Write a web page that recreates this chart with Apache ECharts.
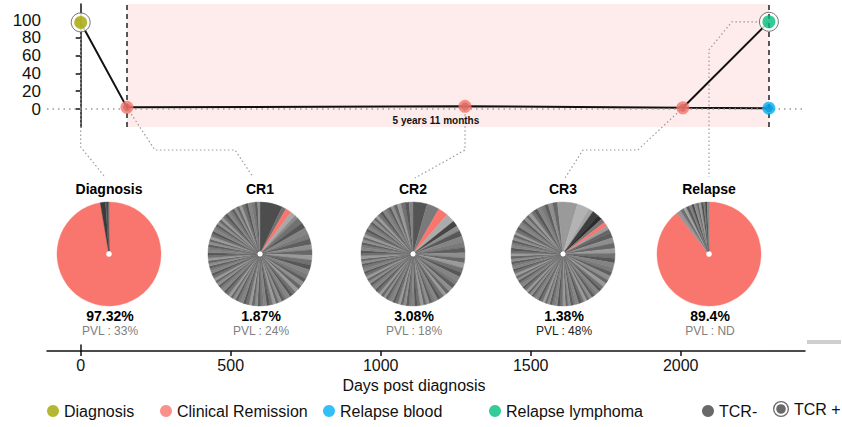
<!DOCTYPE html>
<html><head><meta charset="utf-8">
<script src="https://cdn.jsdelivr.net/npm/echarts@6/dist/echarts.min.js"></script>
<style>html,body{margin:0;padding:0;background:#fff}#c{width:842px;height:427px}</style>
</head><body><div id="c"></div>
<script>
// ---------------- data ----------------
const eventNames = ['Diagnosis', 'CR1', 'CR2', 'CR3', 'Relapse blood', 'Relapse lymphoma'];
const eventDays = [0, 154, 1281, 2007, 2294, 2294];
const eventTumorPct = [97.32, 1.87, 3.08, 1.38, 0.9, 98];
const remissionStartDay = 154;
const relapseDay = 2294;
const remissionLabel = '5 years 11 months';
const xTickValues = [0, 500, 1000, 1500, 2000];
const yTickValues = [0, 20, 40, 60, 80, 100];

const pieTitles = ['Diagnosis', 'CR1', 'CR2', 'CR3', 'Relapse'];
const pieMalignantPct = ['97.32%', '1.87%', '3.08%', '1.38%', '89.4%'];
const piePVL = ['PVL : 33%', 'PVL : 24%', 'PVL : 18%', 'PVL : 48%', 'PVL : ND'];

const diagnosisClones = [97.32, 1.6, 0.5, 0.3, 0.28];
const cr1Clones = [7.0, 1.3, 1.87, 1.6, 1.1,
  2.0, 1.8, 1.9, 1.7, 1.8, 1.6, 1.7, 1.5, 1.6, 1.5, 1.4, 1.5, 1.3, 1.4, 1.3, 1.2,
  1.1, 1.0, 1.1, 0.9, 1.0, 1.0, 0.9, 1.0, 0.9, 1.0, 0.9, 0.9, 1.0, 0.9,
  0.9, 0.9, 1.0, 0.8, 0.9, 0.9, 0.8, 0.9, 0.8, 0.9, 0.9, 0.8, 0.9, 0.8,
  0.8, 0.9, 0.8, 0.8, 0.9, 0.8, 0.8, 0.8, 0.8, 0.9, 0.8, 0.8, 0.8, 0.9,
  0.8, 0.9, 0.8, 0.9, 0.8, 0.9, 0.8, 0.9, 0.8, 0.9, 0.8, 0.9, 0.9, 0.8,
  0.9, 0.9, 0.8, 0.9, 0.9, 0.8, 0.9, 0.9, 1.0, 0.9, 1.1, 1.0, 0.9, 0.73];
const cr2Clones = [4.4, 3.9, 3.08, 2.8, 1.8, 1.6,
  1.9, 1.7, 1.8, 1.6, 1.7, 1.5, 1.6, 1.5, 1.4, 1.5, 1.3, 1.4, 1.3, 1.2,
  1.0, 1.1, 1.0, 0.9, 1.0, 0.9, 1.0, 0.9, 1.0, 0.9, 0.9, 0.8, 0.9, 0.9,
  0.8, 0.9, 0.8, 0.9, 0.8, 0.8, 0.9, 0.8, 0.8, 0.9, 0.8, 0.8, 0.8, 0.8,
  0.8, 0.8, 0.8, 0.9, 0.8, 0.8, 0.8, 0.8, 0.9, 0.8, 0.8, 0.8, 0.9, 0.8,
  0.9, 0.8, 0.9, 0.8, 0.9, 0.8, 0.9, 0.9, 0.9, 0.8, 0.9, 0.9, 0.9, 0.8,
  0.9, 1.0, 0.9, 0.9, 1.0, 0.9, 1.0, 1.1, 1.2, 1.3, 1.2, 1.22];
const cr3Clones = [4.5, 3.8, 1.5, 2.0, 1.5, 1.3, 1.38, 1.2, 1.0,
  1.8, 1.6, 1.7, 1.5, 1.6, 1.4, 1.5, 1.4, 1.3, 1.4, 1.2, 1.3,
  1.0, 0.9, 1.0, 0.9, 1.0, 0.9, 0.9, 0.9, 0.8, 0.9, 0.9, 0.8, 0.9, 0.8,
  0.8, 0.8, 0.9, 0.8, 0.8, 0.8, 0.8, 0.8, 0.7, 0.8, 0.8, 0.7, 0.8, 0.8,
  0.7, 0.8, 0.8, 0.7, 0.8, 0.7, 0.8, 0.8, 0.8, 0.7, 0.8, 0.8, 0.8, 0.7,
  0.8, 0.8, 0.8, 0.8, 0.9, 0.8, 0.8, 0.9, 0.8, 0.9, 0.8, 0.9, 0.9, 0.8,
  0.9, 0.9, 1.0, 0.9, 0.9, 1.0, 0.9, 1.1, 1.0, 1.2, 1.1, 1.3, 1.2, 1.4, 1.5, 1.72];
const relapseClones = [89.4, 1.4, 1.1, 0.9, 1.0, 0.8, 0.7, 0.9, 0.6, 0.8, 0.7, 0.6, 0.5, 0.6];
const malignantCloneIndex = [0, 2, 2, 6, 0];

// ---------------- styling ----------------
const FONT = 'Liberation Sans, Arial, sans-serif';
const C_DIAG = '#A3A500', C_CR = '#F8766D', C_BLOOD = '#00B0F6', C_LYMPH = '#00BF7D';
const headColors = [
  ['#F8766D', '#3b3b3b', '#5a5a5a', '#2f2f2f', '#6b6b6b'],
  ['#4d4d4d', '#707070', '#F8766D', '#a8a8a8', '#8a8a8a'],
  ['#555555', '#7a7a7a', '#F8766D', '#ababab', '#454545', '#8c8c8c'],
  ['#9a9a9a', '#b3b3b3', '#a3a3a3', '#3e3e3e', '#2c2c2c', '#777777', '#F8766D', '#9c9c9c', '#656565'],
  ['#F8766D', '#959595', '#6e6e6e', '#a3a3a3', '#5b5b5b', '#7f7f7f', '#4a4a4a', '#8d8d8d', '#646464', '#9a9a9a', '#525252', '#767676', '#3f3f3f', '#888888']
];
const tailColors = ['#7a7a7a', '#5e5e5e', '#8e8e8e', '#676767', '#9a9a9a', '#717171', '#575757', '#848484'];
const pieCentersX = [109, 260, 413, 563, 709];
const pieCenterY = 254, pieR = 52;

const X_MIN = -112.3, X_MAX = 2414.3;
const Y_MIN = -20.2, Y_MAX = 118;

const allClones = [diagnosisClones, cr1Clones, cr2Clones, cr3Clones, relapseClones];

const sliceColor = (p, i) => i === malignantCloneIndex[p] ? C_CR
  : (i < headColors[p].length ? headColors[p][i] : tailColors[i % tailColors.length]);

const pieSeries = allClones.map((vals, p) => ({
  type: 'pie', name: pieTitles[p], silent: true, animation: false,
  center: [pieCentersX[p], pieCenterY], radius: [3, pieR],
  startAngle: 90, clockwise: true, avoidLabelOverlap: false,
  label: {show: false}, labelLine: {show: false}, emphasis: {disabled: true},
  data: vals.map((v, i) => ({
    value: v,
    itemStyle: {color: sliceColor(p, i), borderColor: sliceColor(p, i), borderWidth: 0.4}
  }))
}));

const pt = i => [eventDays[i], eventTumorPct[i]];
const ringPath = 'path://M0,50 A50,50 0 1,1 100,50 A50,50 0 1,1 0,50 Z M8,50 A42,42 0 1,0 92,50 A42,42 0 1,0 8,50 Z M20,50 A30,30 0 1,1 80,50 A30,30 0 1,1 20,50 Z';

function legendAt(name, left, extra) {
  return Object.assign({
    data: [name], left: left, top: 403, orient: 'horizontal',
    itemWidth: 12, itemHeight: 12, itemGap: 0, icon: 'circle',
    selectedMode: false, padding: 0,
    textStyle: {fontSize: 16, fontFamily: FONT, color: '#111'}
  }, extra || {});
}

const option = {
  animation: false,
  backgroundColor: '#fff',
  grid: [
    {left: 47, right: 37, top: 4, height: 123},
    {left: 47, right: 37, top: 345, height: 6}
  ],
  xAxis: [
    {gridIndex: 0, type: 'value', min: X_MIN, max: X_MAX, show: false, splitLine: {show: false}},
    {gridIndex: 1, type: 'value', min: X_MIN, max: X_MAX, position: 'bottom',
      axisLine: {show: true, lineStyle: {color: '#111', width: 1.5}},
      axisTick: {show: true, length: 5, customValues: xTickValues, lineStyle: {color: '#111', width: 1.5}},
      axisLabel: {customValues: xTickValues, fontSize: 16, fontFamily: FONT, color: '#111', margin: 6,
        formatter: v => String(v)},
      splitLine: {show: false},
      name: 'Days post diagnosis', nameLocation: 'middle', nameGap: 26,
      nameTextStyle: {fontSize: 16, fontFamily: FONT, color: '#111', padding: [0, 24, 0, 0]}
    }
  ],
  yAxis: [
    {gridIndex: 0, type: 'value', min: Y_MIN, max: Y_MAX,
      axisLine: {show: true, lineStyle: {color: '#111', width: 1.5}},
      axisTick: {show: true, length: 5, customValues: yTickValues, lineStyle: {color: '#111', width: 1.5}},
      axisLabel: {customValues: yTickValues, fontSize: 17, fontFamily: FONT, color: '#111', margin: 6,
        formatter: v => String(v)},
      splitLine: {show: false}
    },
    {gridIndex: 1, type: 'value', min: 0, max: 1,
      axisLine: {show: true, lineStyle: {color: '#111', width: 1.5}},
      axisTick: {show: false}, axisLabel: {show: false}, splitLine: {show: false}
    }
  ],
  legend: [
    legendAt('Diagnosis', 47),
    legendAt('Clinical Remission', 160),
    legendAt('Relapse blood', 323),
    legendAt('Relapse lymphoma', 489),
    legendAt('TCR-', 702),
    legendAt('TCR +', 773, {itemWidth: 16, itemHeight: 16, top: 401,
      data: [{name: 'TCR +', icon: ringPath, itemStyle: {color: '#444', borderWidth: 0}}]})
  ],
  series: [
    {
      type: 'line', name: 'trajectory', xAxisIndex: 0, yAxisIndex: 0, z: 3,
      data: [pt(0), pt(1), pt(2), pt(3), pt(4)],
      symbol: 'none', silent: true,
      lineStyle: {color: '#111', width: 2},
      markArea: {
        silent: true,
        itemStyle: {color: '#fdeceb'},
        label: {show: true, position: 'insideBottom', distance: 2, offset: [-12, 0],
          color: '#111', fontWeight: 'bold', fontSize: 10, fontFamily: FONT, formatter: remissionLabel},
        data: [[{xAxis: remissionStartDay}, {xAxis: relapseDay}]]
      },
      markLine: {
        silent: true, symbol: ['none', 'none'], label: {show: false},
        data: [
          {yAxis: 0, lineStyle: {color: '#9a9a9a', width: 1.5, type: [1.5, 4]}},
          {xAxis: remissionStartDay, lineStyle: {color: '#222', width: 1.5, type: [5, 4]}},
          {xAxis: relapseDay, lineStyle: {color: '#222', width: 1.5, type: [5, 4]}}
        ]
      }
    },
    {
      type: 'line', name: 'lymphoma branch', xAxisIndex: 0, yAxisIndex: 0, z: 3,
      data: [pt(3), pt(5)], symbol: 'none', silent: true,
      lineStyle: {color: '#111', width: 2}
    },
    {
      type: 'scatter', name: 'TCR +', xAxisIndex: 0, yAxisIndex: 0, z: 4,
      data: [pt(0), pt(5)], symbol: 'circle', symbolSize: 19, silent: true,
      itemStyle: {color: '#fff', borderColor: '#555', borderWidth: 1}
    },
    {
      type: 'scatter', name: 'TCR-', xAxisIndex: 0, yAxisIndex: 0, z: 4,
      data: [pt(1), pt(2), pt(3), pt(4)], symbol: 'circle', symbolSize: 8, silent: true,
      itemStyle: {color: '#444'}
    },
    {type: 'scatter', name: 'Diagnosis', xAxisIndex: 0, yAxisIndex: 0, z: 5, data: [pt(0)],
      symbol: 'circle', symbolSize: 13, silent: true, itemStyle: {color: C_DIAG}},
    {type: 'scatter', name: 'Clinical Remission', xAxisIndex: 0, yAxisIndex: 0, z: 5, data: [pt(1), pt(2), pt(3)],
      symbol: 'circle', symbolSize: 13, silent: true, itemStyle: {color: C_CR}},
    {type: 'scatter', name: 'Relapse blood', xAxisIndex: 0, yAxisIndex: 0, z: 5, data: [pt(4)],
      symbol: 'circle', symbolSize: 13, silent: true, itemStyle: {color: C_BLOOD}},
    {type: 'scatter', name: 'Relapse lymphoma', xAxisIndex: 0, yAxisIndex: 0, z: 5, data: [pt(5)],
      symbol: 'circle', symbolSize: 13, silent: true, itemStyle: {color: C_LYMPH}}
  ].concat(pieSeries)
};

const chart = echarts.init(document.getElementById('c'), null, {renderer: 'svg'});
chart.setOption(option);

// ---------- annotations (connectors and pie captions) ----------
const px = i => chart.convertToPixel({gridIndex: 0}, pt(i));
const P = [px(0), px(1), px(2), px(3), px(4), px(5)];
const dotted = {stroke: '#9a9a9a', lineWidth: 1.2, lineDash: [1.5, 2.5], fill: null};
const titleTop = 177, elbowY = 150;
const connectors = [
  [P[0], [P[0][0], 147], [pieCentersX[0] - 4, titleTop]],
  [P[1], [P[1][0] + 28, elbowY], [pieCentersX[1] - 25, elbowY], [pieCentersX[1] - 7, titleTop]],
  [P[2], [P[2][0], elbowY], [pieCentersX[2] + 2, titleTop + 1]],
  [P[3], [P[3][0] - 45, elbowY], [pieCentersX[3] + 20, elbowY], [pieCentersX[3] + 2, titleTop + 1]],
  [P[5], [P[5][0] - 37, P[5][1]], [pieCentersX[4], P[5][1] + 28], [pieCentersX[4], titleTop]]
];
const graphics = [];
connectors.forEach((pts, k) => graphics.push({
  type: 'polyline', id: 'conn' + k, z: 1, silent: true,
  shape: {points: pts}, style: dotted
}));
pieTitles.forEach((t, k) => {
  graphics.push({type: 'text', id: 'title' + k, x: pieCentersX[k], y: 189, z: 10, silent: true,
    style: {text: t, fill: '#000', font: 'bold 14px ' + FONT, textAlign: 'center', textVerticalAlign: 'middle'}});
  graphics.push({type: 'text', id: 'pct' + k, x: pieCentersX[k] + 1, y: 316, z: 10, silent: true,
    style: {text: pieMalignantPct[k], fill: '#000', font: 'bold 14px ' + FONT, textAlign: 'center', textVerticalAlign: 'middle'}});
  graphics.push({type: 'text', id: 'pvl' + k, x: pieCentersX[k] + 1, y: 331, z: 10, silent: true,
    style: {text: piePVL[k], fill: k === 3 ? '#222' : '#808080', font: '12px ' + FONT, textAlign: 'center', textVerticalAlign: 'middle'}});
});
graphics.push({type: 'rect', id: 'greybar', silent: true, shape: {x: 807, y: 340, width: 34, height: 4}, style: {fill: '#cfcfcf'}});
chart.setOption({graphic: graphics});
</script>
</body></html>
